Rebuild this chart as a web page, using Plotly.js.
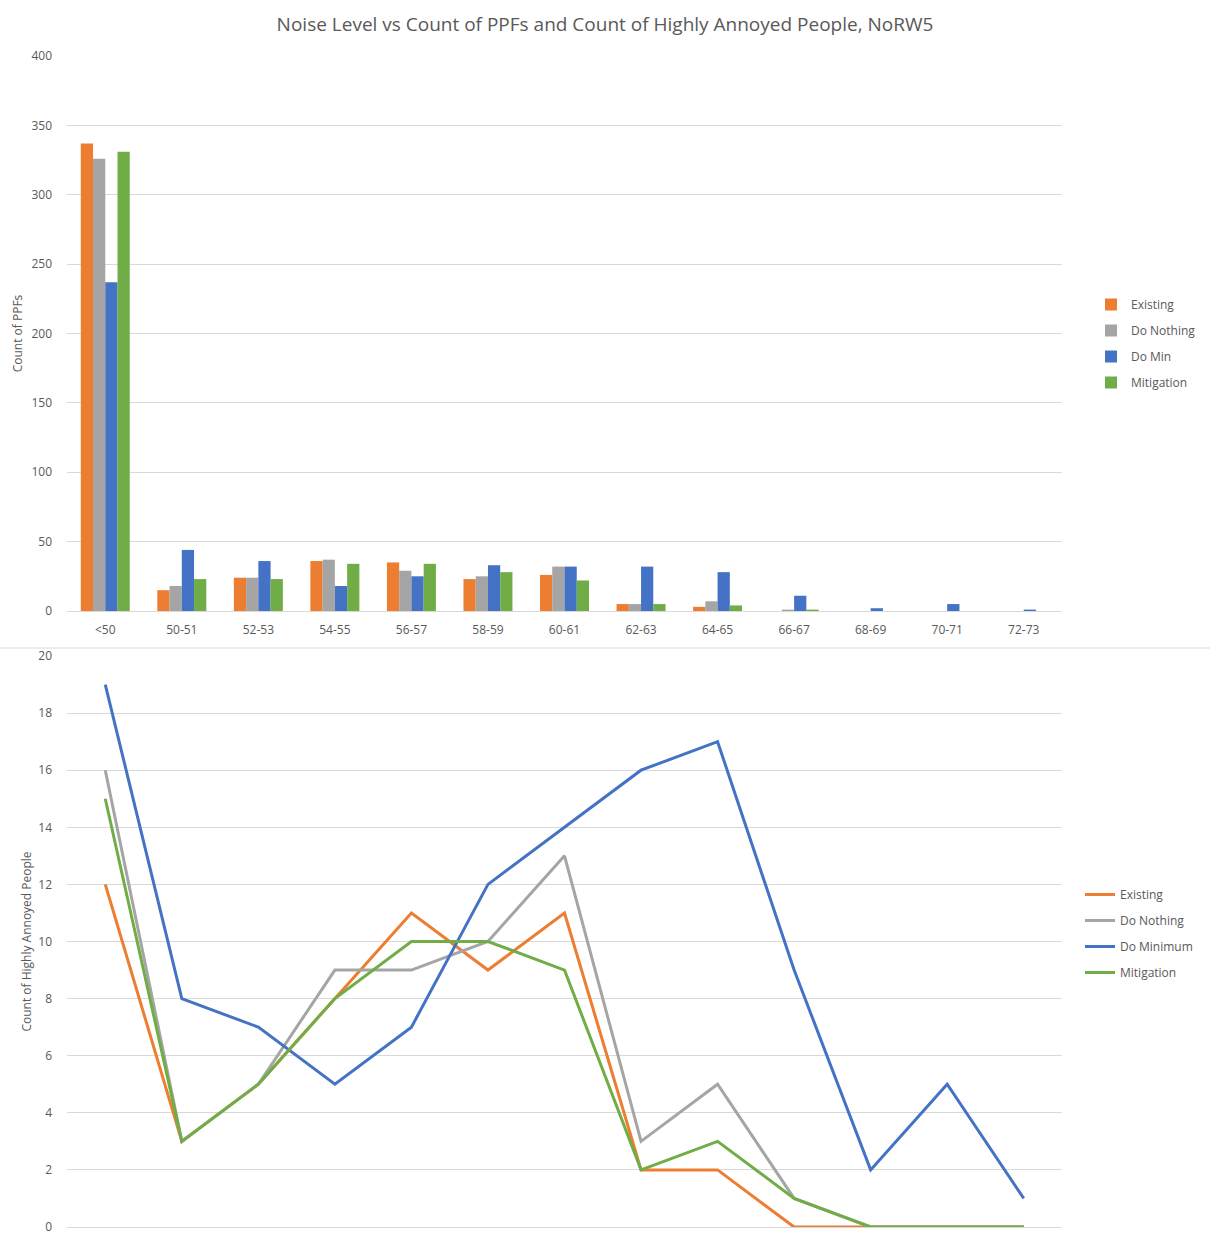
<!DOCTYPE html>
<html>
<head>
<meta charset="utf-8">
<script src="https://cdn.plot.ly/plotly-3.0.1.min.js"></script>
<style>html,body{margin:0;padding:0;background:#fff;}#chart{width:1210px;height:1242px;}</style>
</head>
<body>
<div id="chart"></div>
<script>
const categories = ["<50","50-51","52-53","54-55","56-57","58-59","60-61","62-63","64-65","66-67","68-69","70-71","72-73"];

// Count of PPFs (bar chart)
const ppfExisting   = [337, 15, 24, 36, 35, 23, 26, 5, 3, 0, 0, 0, 0];
const ppfDoNothing  = [326, 18, 24, 37, 29, 25, 32, 5, 7, 1, 0, 0, 0];
const ppfDoMin      = [237, 44, 36, 18, 25, 33, 32, 32, 28, 11, 2, 5, 1];
const ppfMitigation = [331, 23, 23, 34, 34, 28, 22, 5, 4, 1, 0, 0, 0];

// Count of Highly Annoyed People (line chart)
const haExisting   = [12, 3, 5, 8, 11, 9, 11, 2, 2, 0, 0, 0, 0];
const haDoNothing  = [16, 3, 5, 9, 9, 10, 13, 3, 5, 1, 0, 0, 0];
const haDoMinimum  = [19, 8, 7, 5, 7, 12, 14, 16, 17, 9, 2, 5, 1];
const haMitigation = [15, 3, 5, 8, 10, 10, 9, 2, 3, 1, 0, 0, 0];

const barNames = ["Existing", "Do Nothing", "Do Min", "Mitigation"];
const lineNames = ["Existing", "Do Nothing", "Do Minimum", "Mitigation"];
const colors = ["#ED7D31", "#A5A5A5", "#4472C4", "#70AD47"];

const barSeries = [ppfExisting, ppfDoNothing, ppfDoMin, ppfMitigation];
const lineSeries = [haExisting, haDoNothing, haDoMinimum, haMitigation];

const traces = [];
barSeries.forEach((vals, i) => {
  traces.push({
    type: "bar", x: categories, y: vals, name: barNames[i],
    marker: {color: colors[i]}, xaxis: "x", yaxis: "y",
    legend: "legend", legendgroup: "b" + i
  });
});
lineSeries.forEach((vals, i) => {
  traces.push({
    type: "scatter", mode: "lines", x: categories, y: vals, name: lineNames[i],
    line: {color: colors[i], width: 3}, xaxis: "x2", yaxis: "y2",
    legend: "legend2", legendgroup: "l" + i
  });
});

const txt = "#595959";
const grid = "#D9D9D9";
const font = {family: "Open Sans, sans-serif", size: 12, color: txt};
const xr = [-0.5, categories.length - 0.5];

const layout = {
  width: 1210, height: 1242,
  margin: {l: 67, r: 148, t: 56, b: 15, autoexpand: false},
  paper_bgcolor: "#fff", plot_bgcolor: "#fff",
  font: font,
  title: {
    text: "Noise Level vs Count of PPFs and Count of Highly Annoyed People, NoRW5",
    font: {family: "Open Sans, sans-serif", size: 19, color: txt},
    xref: "container", x: 0.5, xanchor: "center",
    yref: "container", y: 1 - 24/1242, yanchor: "middle"
  },
  barmode: "group", bargap: 0.36, bargroupgap: 0,
  xaxis: {
    domain: [0, 1], anchor: "y", type: "category", range: xr,
    showgrid: false, zeroline: false, showline: false, ticks: "",
    tickfont: {size: 12, color: txt}, ticklabelstandoff: 10
  },
  yaxis: {
    domain: [616/1171, 1], anchor: "x", range: [0, 400], dtick: 50,
    showgrid: true, gridcolor: grid, gridwidth: 1, zeroline: true, zerolinecolor: grid,
    showline: false, ticks: "", tickfont: {size: 12, color: txt}, ticklabelstandoff: 14,
    title: {text: "Count of PPFs", font: {size: 12, color: txt}, standoff: 6}
  },
  xaxis2: {
    domain: [0, 1], anchor: "y2", type: "category", range: xr,
    showgrid: false, zeroline: false, showline: false, ticks: "", showticklabels: false
  },
  yaxis2: {
    domain: [0, 571/1171], anchor: "x2", range: [0, 20], dtick: 2,
    showgrid: true, gridcolor: grid, gridwidth: 1, zeroline: true, zerolinecolor: grid,
    showline: false, ticks: "", tickfont: {size: 12, color: txt}, ticklabelstandoff: 14,
    title: {text: "Count of Highly Annoyed People", font: {size: 12, color: txt}, standoff: 4}
  },
  legend: {
    x: (1091-67)/995, xanchor: "left", y: (1227-290)/1171, yanchor: "top",
    traceorder: "grouped", tracegroupgap: 7, font: {size: 12, color: txt},
    bgcolor: "rgba(0,0,0,0)", itemwidth: 30
  },
  legend2: {
    x: (1080-67)/995, xanchor: "left", y: (1227-880)/1171, yanchor: "top",
    traceorder: "grouped", tracegroupgap: 7, font: {size: 12, color: txt},
    bgcolor: "rgba(0,0,0,0)", itemwidth: 30
  },
  shapes: [{
    type: "line", xref: "paper", yref: "paper",
    x0: -67/995, x1: (1210-67)/995, y0: (1227-648)/1171, y1: (1227-648)/1171,
    line: {color: "#D9D9D9", width: 1}
  }]
};

Plotly.newPlot("chart", traces, layout, {displayModeBar: false, staticPlot: true});
</script>
</body>
</html>
